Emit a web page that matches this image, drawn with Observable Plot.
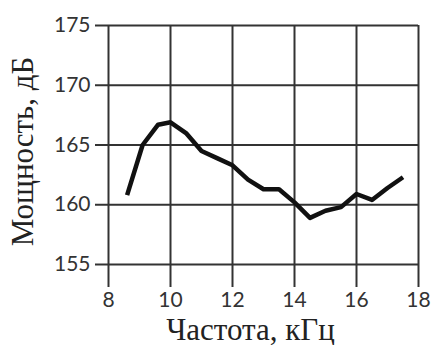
<!DOCTYPE html>
<html>
<head>
<meta charset="utf-8">
<script src="https://cdn.jsdelivr.net/npm/d3@7"></script>
<script src="https://cdn.jsdelivr.net/npm/@observablehq/plot@0.6"></script>
<style>
  html, body { margin: 0; padding: 0; background: #fff; }
  #chart svg { display: block; }
</style>
</head>
<body>
<div id="chart"></div>
<script>
// Frequency (kHz) and measured power (dB)
const frequency = [8.6, 9.1, 9.6, 10, 10.5, 11, 11.5, 12, 12.5, 13, 13.5, 14, 14.5, 15, 15.5, 16, 16.5, 17, 17.5];
const power     = [160.8, 165.0, 166.7, 166.9, 166.0, 164.5, 163.9, 163.3, 162.1, 161.3, 161.3, 160.2, 158.9, 159.5, 159.8, 160.9, 160.4, 161.4, 162.3];

const xTicks = [8, 10, 12, 14, 16, 18];
const yTicks = [155, 160, 165, 170, 175];

const xTitle = "Частота, кГц";
const yTitle = "Мощность, дБ";

const rows = frequency.map((f, i) => ({f, p: power[i]}));

const gridColor = "#333";
const tickFont = "Lato, 'Open Sans', sans-serif";
const titleFont = "'Liberation Serif', 'DejaVu Serif', serif";

const chart = Plot.plot({
  width: 435,
  height: 345,
  marginLeft: 108,
  marginRight: 17,
  marginTop: 25,
  marginBottom: 81,
  style: {background: "#fff", color: "#333"},
  x: {domain: [8, 18]},
  y: {domain: [155, 175]},
  marks: [
    Plot.gridX(xTicks, {stroke: gridColor, strokeOpacity: 1, strokeWidth: 2}),
    Plot.gridY(yTicks, {stroke: gridColor, strokeOpacity: 1, strokeWidth: 2}),
    Plot.axisX(xTicks, {
      tickSize: 23, tickPadding: 5, strokeWidth: 2, stroke: gridColor,
      fontSize: 21, fontFamily: tickFont, fill: "#333", label: null
    }),
    Plot.axisY(yTicks, {
      tickSize: 13, tickPadding: 5, strokeWidth: 2, stroke: gridColor,
      fontSize: 21, fontFamily: tickFont, fill: "#333", label: null
    }),
    Plot.line(rows, {
      x: "f", y: "p", stroke: "#111", strokeWidth: 4.5,
      strokeLinejoin: "round", strokeLinecap: "butt"
    }),
    Plot.text([xTitle], {
      text: d => d, frameAnchor: "bottom", lineAnchor: "bottom", textAnchor: "middle",
      dx: -13, dy: 75, fontSize: 31, fontFamily: titleFont, fill: "#222"
    }),
    Plot.text([yTitle], {
      text: d => d, frameAnchor: "left", lineAnchor: "middle", textAnchor: "middle", rotate: -90,
      dx: -85, dy: 6.5, fontSize: 31, fontFamily: titleFont, fill: "#222"
    })
  ]
});

document.getElementById("chart").appendChild(chart);
</script>
</body>
</html>
